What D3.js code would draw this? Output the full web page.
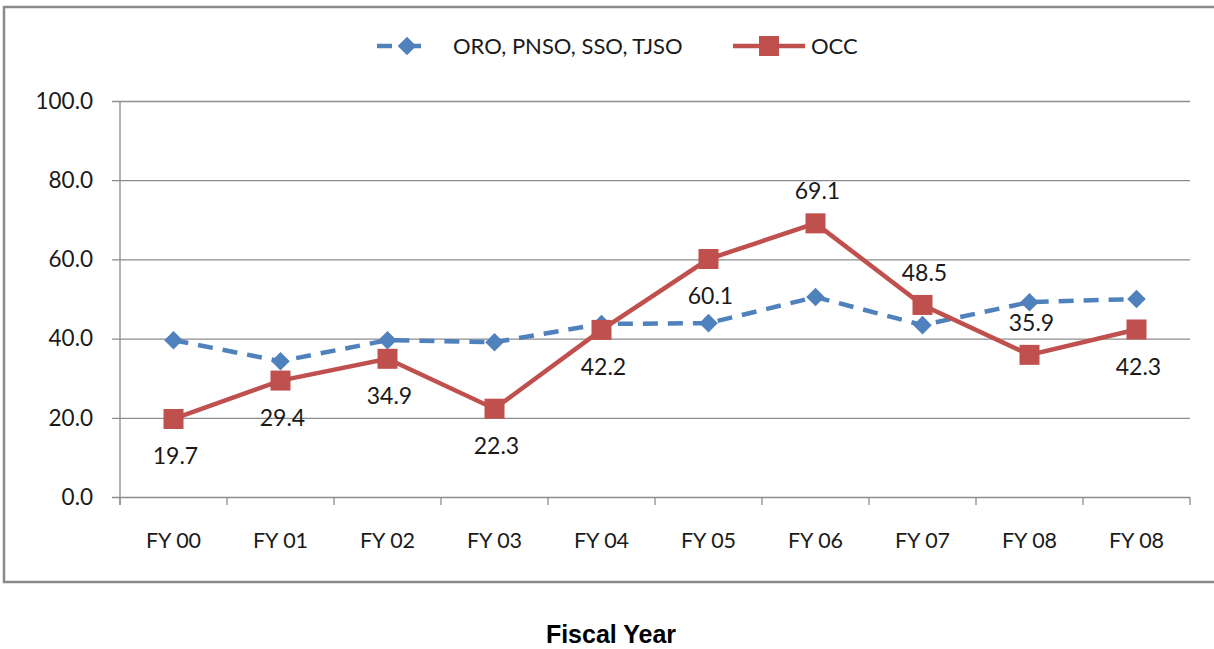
<!DOCTYPE html>
<html lang="en">
<head>
<meta charset="UTF-8" />
<title>Fiscal Year</title>
<script src="https://d3js.org/d3.v7.min.js"></script>
<style>
  body { margin: 0; background: #fff; }
  text { font-family: Lato, "Open Sans", sans-serif; fill: #1a1a1a; }
</style>
</head>
<body>
<svg id="chart" width="1214" height="649"></svg>
<script>
var years = ["FY 00", "FY 01", "FY 02", "FY 03", "FY 04", "FY 05", "FY 06", "FY 07", "FY 08", "FY 08"];
var groupVals = [39.6, 34.3, 39.6, 39.1, 43.7, 43.9, 50.5, 43.4, 49.2, 50.0];
var occVals = [19.7, 29.4, 34.9, 22.3, 42.2, 60.1, 69.1, 48.5, 35.9, 42.3];
var occLabelSide = ["below", "below", "below", "below", "below", "below", "above", "above", "above", "below"];
var yTicks = [0, 20, 40, 60, 80, 100];
var seriesNames = ["ORO, PNSO, SSO, TJSO", "OCC"];

var blue = "#4f81bd", red = "#c0504d", grid = "#8c8c8c";

var svg = d3.select("#chart");
var pLeft = 120, pRight = 1190, pTop = 101, pBottom = 497;

// outer frame (right side runs off the picture)
svg.append("path")
  .attr("d", "M1216,7 H4 V582 H1216")
  .attr("fill", "none").attr("stroke", "#8a8a8a").attr("stroke-width", 2.5);

var x = d3.scaleBand().domain(d3.range(years.length)).range([pLeft, pRight]);
var y = d3.scaleLinear().domain([0, 100]).range([pBottom, pTop]);
var cx = function(i){ return x(i) + x.bandwidth() / 2 };

// gridlines + y axis
var yAxis = d3.axisLeft(y).tickValues(yTicks).tickSize(-(pRight - pLeft)).tickPadding(27)
  .tickFormat(d3.format(".1f"));
var gy = svg.append("g").attr("transform", "translate(" + pLeft + ",0)").call(yAxis);
gy.select(".domain").remove();
gy.selectAll(".tick line").attr("stroke", grid).attr("stroke-width", 1.3).attr("x1", -8);
gy.selectAll(".tick text").attr("font-size", 22.5).attr("font-family", "Lato").attr("fill", "#1a1a1a");

svg.append("line").attr("x1", pLeft).attr("x2", pLeft).attr("y1", pTop).attr("y2", pBottom + 8)
  .attr("stroke", grid).attr("stroke-width", 1.3);

// x axis
var xAxis = d3.axisBottom(x).tickSize(0).tickPadding(36).tickFormat(function(i){ return years[i] });
var gx = svg.append("g").attr("transform", "translate(0," + pBottom + ")").call(xAxis);
gx.select(".domain").remove();
gx.selectAll(".tick text").attr("font-size", 21.5).attr("font-family", "Lato").attr("fill", "#1a1a1a");
svg.selectAll(".xt").data(d3.range(years.length + 1)).enter().append("line")
  .attr("x1", function(i){ return pLeft + i * x.step() })
  .attr("x2", function(i){ return pLeft + i * x.step() })
  .attr("y1", pBottom).attr("y2", pBottom + 8)
  .attr("stroke", grid).attr("stroke-width", 1.3);

var line = d3.line().x(function(d, i){ return cx(i) }).y(function(d){ return y(d) });

// blue dashed series
svg.append("path").datum(groupVals).attr("d", line)
  .attr("fill", "none").attr("stroke", blue).attr("stroke-width", 4.5)
  .attr("stroke-dasharray", "15,10");
svg.selectAll(".dia").data(groupVals).enter().append("path")
  .attr("d", d3.symbol(d3.symbolDiamond2, 220))
  .attr("transform", function(d, i){ return "translate(" + cx(i) + "," + y(d) + ")" })
  .attr("fill", blue);

// red series
svg.append("path").datum(occVals).attr("d", line)
  .attr("fill", "none").attr("stroke", red).attr("stroke-width", 4.5);
svg.selectAll(".sq").data(occVals).enter().append("rect")
  .attr("x", function(d, i){ return cx(i) - 10 })
  .attr("y", function(d){ return y(d) - 10 })
  .attr("width", 20).attr("height", 20)
  .attr("fill", red);

svg.selectAll(".lbl").data(occVals).enter().append("text")
  .attr("x", function(d, i){ return cx(i) + 2 })
  .attr("y", function(d, i){ return y(d) + (occLabelSide[i] == "above" ? -32 : 37) })
  .attr("dy", "0.35em").attr("text-anchor", "middle").attr("font-size", 23)
  .text(function(d){ return d.toFixed(1) });

// legend
var lg = svg.append("g");
lg.append("line").attr("x1", 377).attr("x2", 433).attr("y1", 46).attr("y2", 46)
  .attr("stroke", blue).attr("stroke-width", 4.5).attr("stroke-dasharray", "15,14");
lg.append("path").attr("d", d3.symbol(d3.symbolDiamond2, 220))
  .attr("transform", "translate(407,46)").attr("fill", blue);
lg.append("text").attr("x", 453).attr("y", 46).attr("dy", "0.35em").attr("font-size", 22).text(seriesNames[0]);
lg.append("line").attr("x1", 733).attr("x2", 805).attr("y1", 46).attr("y2", 46)
  .attr("stroke", red).attr("stroke-width", 4.5);
lg.append("rect").attr("x", 759).attr("y", 36).attr("width", 20).attr("height", 20).attr("fill", red);
lg.append("text").attr("x", 811).attr("y", 46).attr("dy", "0.35em").attr("font-size", 22).text(seriesNames[1]);

// axis title below the frame
svg.append("text").attr("x", 611).attr("y", 634).attr("dy", "0.35em").attr("text-anchor", "middle")
  .style("font-family", "'Liberation Sans', Arial, sans-serif").attr("font-weight", "bold")
  .attr("font-size", 25).style("fill", "#000").text("Fiscal Year");
</script>
</body>
</html>
